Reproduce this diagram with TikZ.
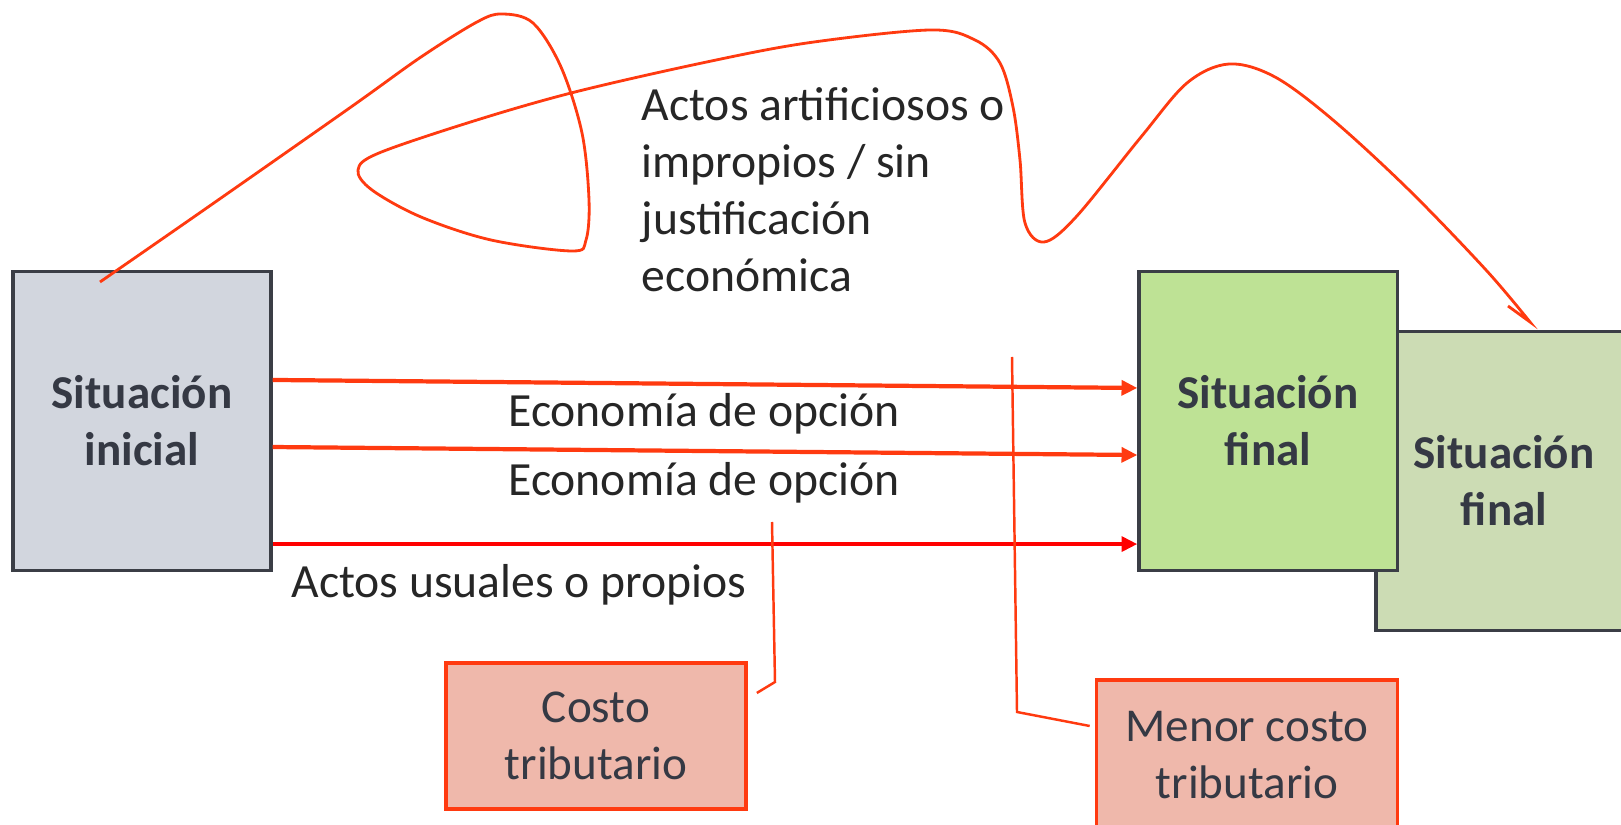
\documentclass[tikz,border=0pt]{standalone}
\usepackage{fontspec}
\setmainfont{Carlito}
\usepackage{xcolor}
\usepackage{tikz}
\usetikzlibrary{arrows.meta}

\definecolor{boxline}{HTML}{3B3E46}
\definecolor{boxtext}{HTML}{353944}
\definecolor{grayfill}{HTML}{D2D6DE}
\definecolor{greenfill}{HTML}{BEE295}
\definecolor{greenpale}{HTML}{CCDCB4}
\definecolor{costfill}{HTML}{EFB8AB}
\definecolor{redorange}{HTML}{FF3A10}
\definecolor{pured}{HTML}{FF0000}

\begin{document}
\begin{tikzpicture}[x=0.01cm,y=-0.01cm]
			\tikzstyle{situacion}=[rectangle,draw=boxline,line width=0.9pt,text=boxtext,font=\bfseries\fontsize{13.4}{16.2}\selectfont,align=center,minimum width=2.58cm,minimum height=2.98cm,inner sep=0pt]
			\tikzstyle{costobox}=[rectangle,draw=redorange,fill=costfill,line width=1pt,text=boxtext,font=\fontsize{13.4}{16.2}\selectfont,align=center,minimum width=3cm,inner sep=0pt]
			\tikzstyle{texto}=[font=\fontsize{13.55}{16.2}\selectfont,text=black!85,inner sep=0pt]
			\tikzset{edge/.style = {->,> = {Triangle[length=4.5pt,width=4.2pt]},line width=1.2pt}}
			\tikzset{callout/.style = {draw=redorange,line width=0.7pt}}
			
			\useasboundingbox (0,0) rectangle (1621,825);
			
			\node[situacion,fill=greenpale,minimum width=2.56cm](final2) at (1504,481) {Situación\\final};
			\node[situacion,fill=grayfill](inicial) at (142,421) {Situación\\inicial};
			\node[situacion,fill=greenfill](final) at (1268,421) {Situación\\final};
			
			\node[costobox,minimum height=1.46cm](costo) at (596,736) {Costo\\tributario};
			\node[costobox,minimum width=3.01cm,minimum height=1.5cm](menor) at (1247,755) {Menor costo\\tributario};
			
			\node[texto](econ1) at (704,414) {Economía de opción};
			\node[texto](econ2) at (704,483) {Economía de opción};
			\node[texto](usuales) at (519,585) {Actos usuales o propios};
			\node[texto,anchor=west,align=left](artif) at (641,190) {Actos artificiosos o\\impropios / sin\\justificación\\económica};
			
			\draw[edge,redorange] ([yshift=0.41cm]inicial.east) to ([yshift=0.33cm]final.west);
			\draw[edge,redorange] ([yshift=-0.26cm]inicial.east) to ([yshift=-0.34cm]final.west);
			\draw[edge,pured] ([yshift=-1.23cm]inicial.east) to ([yshift=-1.23cm]final.west);
			
			\coordinate (costotip) at (772,522);
			\coordinate (menortip) at (1012,357);
			\draw[callout] ([xshift=0.09cm,yshift=0.43cm]costo.east) -- (775,682) -- (costotip);
			\draw[callout] ([xshift=-0.05cm,yshift=0.29cm]menor.west) -- (1017,712) -- (menortip);
			
			\draw[callout,line width=0.8pt] plot[smooth,tension=0.55] coordinates {(100,282) (211,205) (351,107) (421,57) (477,22) (502,14) (533,23) (561,67) (582,133) (589,200) (586,240) (572,251) (491,240) (421,217) (372,190) (358,170) (379,153) (477,120) (575,92) (702,63) (807,43) (930,30) (975,40) (1000,63) (1013,107) (1020,160) (1025,223) (1044,242) (1076,217) (1141,137) (1187,83) (1229,64) (1275,77) (1333,120) (1409,190) (1486,270) (1530,322)} -- (1508,306);
\end{tikzpicture}
\end{document}
